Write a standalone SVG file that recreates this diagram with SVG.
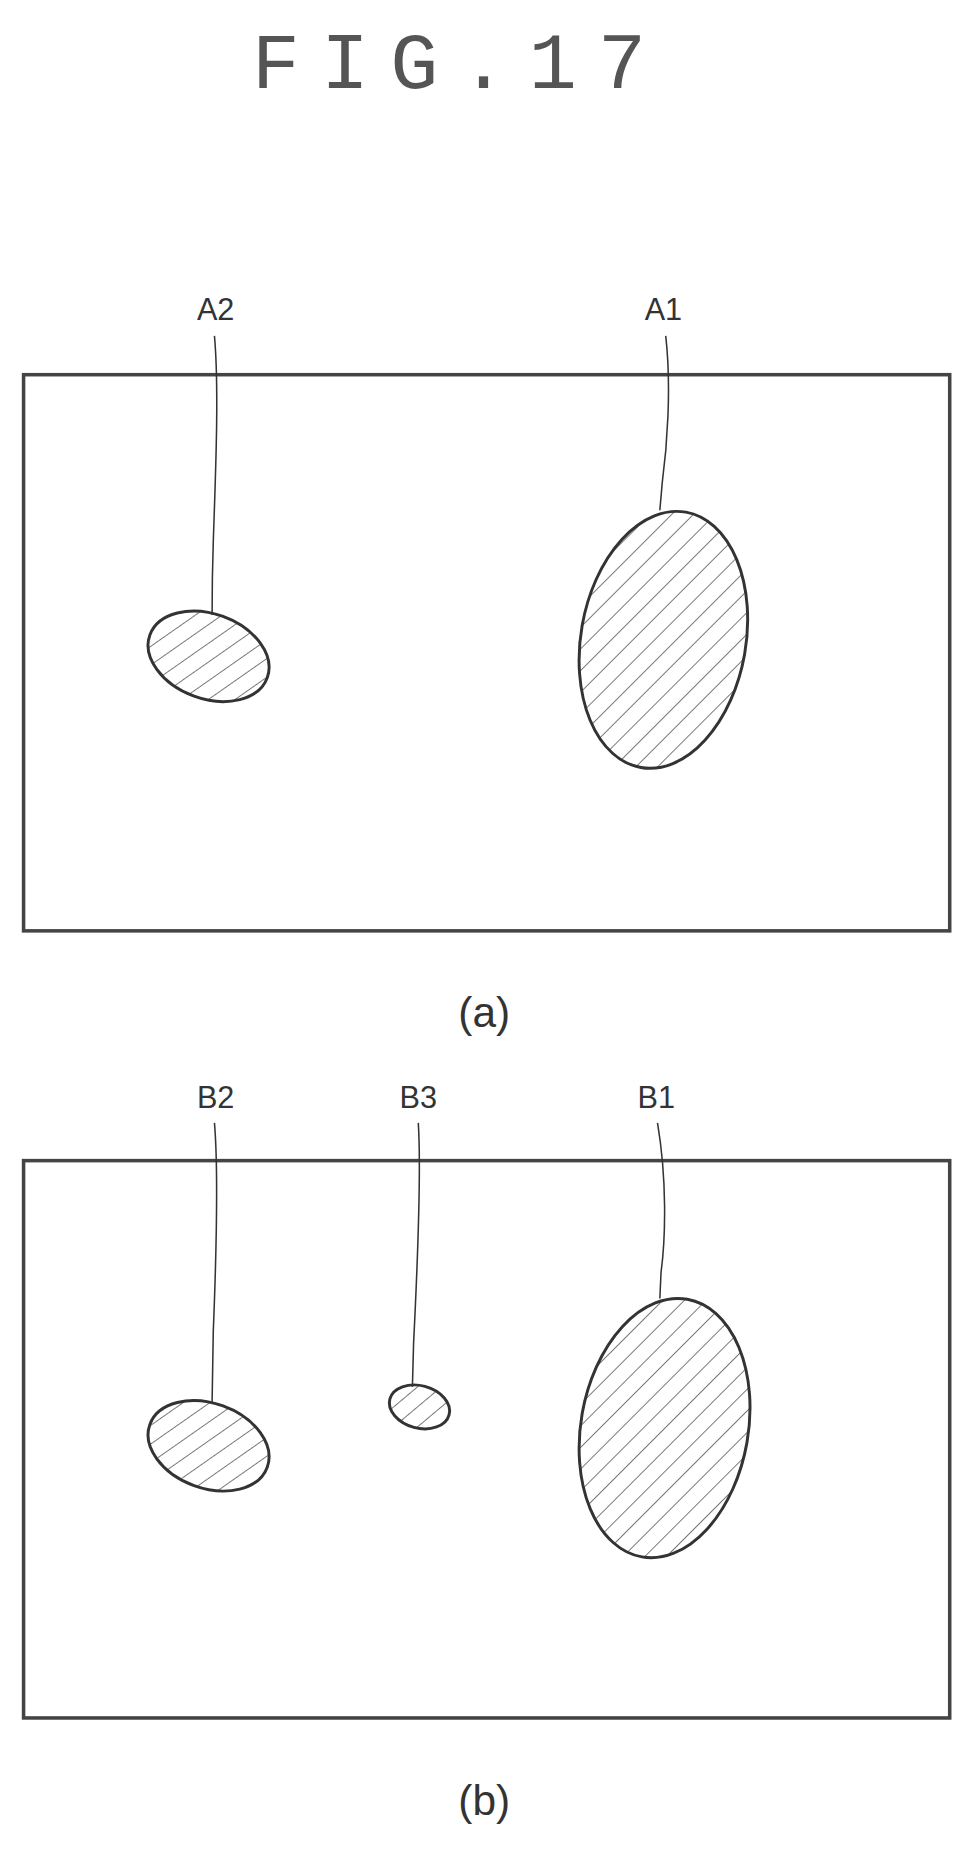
<svg xmlns="http://www.w3.org/2000/svg" width="978" height="1860" viewBox="0 0 978 1860">
<style>
.ln{fill:none;stroke:#333;stroke-width:1.3}
.fr{fill:none;stroke:#444;stroke-width:3}
.el{fill:url(#hatch);stroke:#333;stroke-width:2.5}
.lb{font-family:"Liberation Sans",Arial,sans-serif;font-size:26px;fill:#333;text-anchor:middle}
.cap{font-family:"Liberation Sans",Arial,sans-serif;font-size:36px;fill:#333;text-anchor:middle}
.ttl{font-family:"Liberation Mono",monospace;font-size:68px;fill:#555;text-anchor:middle;letter-spacing:18px}
</style>
<defs>
<pattern id="hatch" patternUnits="userSpaceOnUse" width="13" height="13" patternTransform="rotate(35)">
<rect width="13" height="13" fill="#fff"/>
<line x1="0" y1="0" x2="0" y2="13" stroke="#444" stroke-width="1.2"/>
</pattern>
</defs>
<rect width="978" height="1860" fill="#fff"/>
<g transform="scale(1.1783)">
<text class="ttl" x="390" y="75">FIG.17</text>
<g id="panel-a">
<rect class="fr" x="20" y="318" width="786" height="472"/>
<text class="cap" x="411" y="872">(a)</text>
</g>
<g id="A2"><text class="lb" x="183" y="272">A2</text><ellipse class="el" cx="177" cy="557" rx="53" ry="36" transform="rotate(20 177 557)"/></g>
<g id="A1"><text class="lb" x="563" y="272">A1</text><ellipse class="el" cx="563" cy="543" rx="70" ry="110" transform="rotate(10 563 543)"/></g>
<g id="panel-b">
<rect class="fr" x="20" y="985" width="786" height="473"/>
<text class="cap" x="411" y="1540">(b)</text>
</g>
<g id="B2"><text class="lb" x="183" y="940">B2</text><ellipse class="el" cx="177" cy="1227" rx="53" ry="36" transform="rotate(20 177 1227)"/></g>
<g id="B3"><text class="lb" x="355" y="940">B3</text><ellipse class="el" cx="356" cy="1194" rx="26" ry="18" transform="rotate(15 356 1194)"/></g>
<g id="B1"><text class="lb" x="557" y="940">B1</text><ellipse class="el" cx="564" cy="1212" rx="71" ry="111" transform="rotate(10 564 1212)"/></g>
<g id="connectors">
<path class="ln" d="M182 285 C186 330 183 400 181 460 C180 490 180 505 180 522"/>
<path class="ln" d="M565 285 C570 330 566 380 562 410 L560 433"/>
<path class="ln" d="M182 953 C186 1000 183 1080 181 1130 L180 1191"/>
<path class="ln" d="M355 953 C358 1000 353 1100 351 1140 L350 1177"/>
<path class="ln" d="M558 953 C566 1000 565 1050 561 1080 L560 1102"/>
</g>
</g>
</svg>
